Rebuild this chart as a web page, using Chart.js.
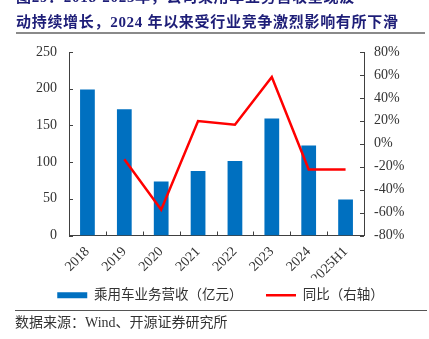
<!DOCTYPE html>
<html>
<head>
<meta charset="utf-8">
<script src="https://cdn.jsdelivr.net/npm/chart.js@4/dist/chart.umd.min.js"></script>
<style>
  html, body { margin: 0; padding: 0; background: #fff; }
  #wrap { position: relative; width: 429px; height: 339px; overflow: hidden; }
  #chart { position: absolute; left: 0; top: 0; }
  .txt { position: absolute; white-space: nowrap; font-family: 'Liberation Serif', 'Noto Sans CJK SC', serif; }
  .title { left: 16px; font-size: 15px; font-weight: bold; color: #1e1e78; letter-spacing: 0.7px; line-height: 18px; }
  .rule { position: absolute; }
</style>
</head>
<body>
<div id="wrap">
  <canvas id="chart" width="429" height="339"></canvas>
  <div class="txt title" style="top:-12px;">图29：2018-2025年，公司乘用车业务营收呈现波</div>
  <div class="txt title" style="top:13px;">动持续增长，2024 年以来受行业竞争激烈影响有所下滑</div>
  <div class="rule" style="left:16px; top:32px; width:409px; height:2px; background:#8a8a8a;"></div>
  <div class="rule" style="left:15px; top:310px; width:412px; height:1px; background:#555;"></div>
  <div class="txt" style="left:15px; top:314px; font-size:14px; color:#333; line-height:18px;">数据来源：Wind、开源证券研究所</div>
</div>
<script>
// 年份
const categories = ['2018', '2019', '2020', '2021', '2022', '2023', '2024', '2025H1'];
// 乘用车业务营收（亿元）
const revenue = [199, 172, 73.5, 88, 101.5, 159.5, 122.5, 49];
// 同比（%）
const yoy = [null, -13.6, -57.6, 19.8, 16.6, 58.2, -22.4, -22.4];

const axisColor = '#404040';
const tickFont = { family: "'Liberation Serif', serif", size: 14 };

// 刻度线朝内画
const innerTicks = {
  id: 'innerTicks',
  afterDraw(chart) {
    const ctx = chart.ctx;
    const a = chart.chartArea;
    const { x, y, y1 } = chart.scales;
    ctx.save();
    ctx.strokeStyle = axisColor;
    ctx.lineWidth = 1;
    ctx.beginPath();
    y.ticks.forEach(t => {
      const py = Math.round(y.getPixelForValue(t.value)) + 0.5;
      ctx.moveTo(a.left, py);
      ctx.lineTo(a.left + 4, py);
    });
    y1.ticks.forEach(t => {
      const py = Math.round(y1.getPixelForValue(t.value)) + 0.5;
      ctx.moveTo(a.right, py);
      ctx.lineTo(a.right - 4, py);
    });
    for (let i = 0; i <= categories.length; i++) {
      const px = Math.round(x.getPixelForValue(i - 0.5)) + 0.5;
      ctx.moveTo(px, a.bottom);
      ctx.lineTo(px, a.bottom - 4);
    }
    ctx.stroke();
    ctx.restore();
  }
};

new Chart(document.getElementById('chart'), {
  type: 'bar',
  data: {
    labels: categories,
    datasets: [{
      label: '乘用车业务营收（亿元）',
      data: revenue,
      backgroundColor: '#0070c0',
      borderWidth: 0,
      barPercentage: 0.4,
      categoryPercentage: 1,
      yAxisID: 'y',
      order: 2
    }, {
      type: 'line',
      label: '同比（右轴）',
      data: yoy,
      borderColor: '#ff0000',
      backgroundColor: '#ff0000',
      borderWidth: 2.5,
      pointRadius: 0,
      tension: 0,
      yAxisID: 'y1',
      order: 1
    }]
  },
  options: {
    responsive: false,
    animation: false,
    layout: { padding: { top: 52, left: 12, right: 0, bottom: 27 } },
    plugins: {
      tooltip: { enabled: false },
      legend: {
        position: 'bottom',
        labels: {
          usePointStyle: true,
          pointStyleWidth: 30,
          boxHeight: 6,
          padding: 10,
          color: '#333',
          font: { family: "'Liberation Serif', 'Noto Sans CJK SC', serif", size: 13.5 },
          generateLabels(chart) {
            // 第一项后面留点空，拉开两项间距
            return chart.data.datasets.map((ds, i) => ({
              text: ds.type === 'line' ? ds.label : ds.label + '    ',
              datasetIndex: i,
              fillStyle: ds.type === 'line' ? ds.borderColor : ds.backgroundColor,
              strokeStyle: ds.type === 'line' ? ds.borderColor : ds.backgroundColor,
              lineWidth: ds.type === 'line' ? 2.5 : 0,
              pointStyle: ds.type === 'line' ? 'line' : 'rect',
              fontColor: '#333'
            }));
          }
        }
      }
    },
    scales: {
      x: {
        grid: { display: false, drawTicks: false },
        border: { color: axisColor, width: 1 },
        ticks: { color: '#333', font: tickFont, maxRotation: 45, minRotation: 45, padding: 8 },
        afterFit(s) { s.height = 43; }
      },
      y: {
        position: 'left',
        min: 0,
        max: 250,
        grid: { display: false, drawTicks: false },
        border: { color: axisColor, width: 1 },
        ticks: { stepSize: 50, color: '#333', font: tickFont, padding: 12 },
        afterFit(s) { s.width = 57; }
      },
      y1: {
        position: 'right',
        min: -80,
        max: 80,
        grid: { display: false, drawTicks: false },
        border: { color: axisColor, width: 1 },
        ticks: { stepSize: 20, color: '#333', font: tickFont, padding: 10, callback: v => v + '%' },
        afterFit(s) { s.width = 65; }
      }
    }
  },
  plugins: [innerTicks]
});
</script>
</body>
</html>
